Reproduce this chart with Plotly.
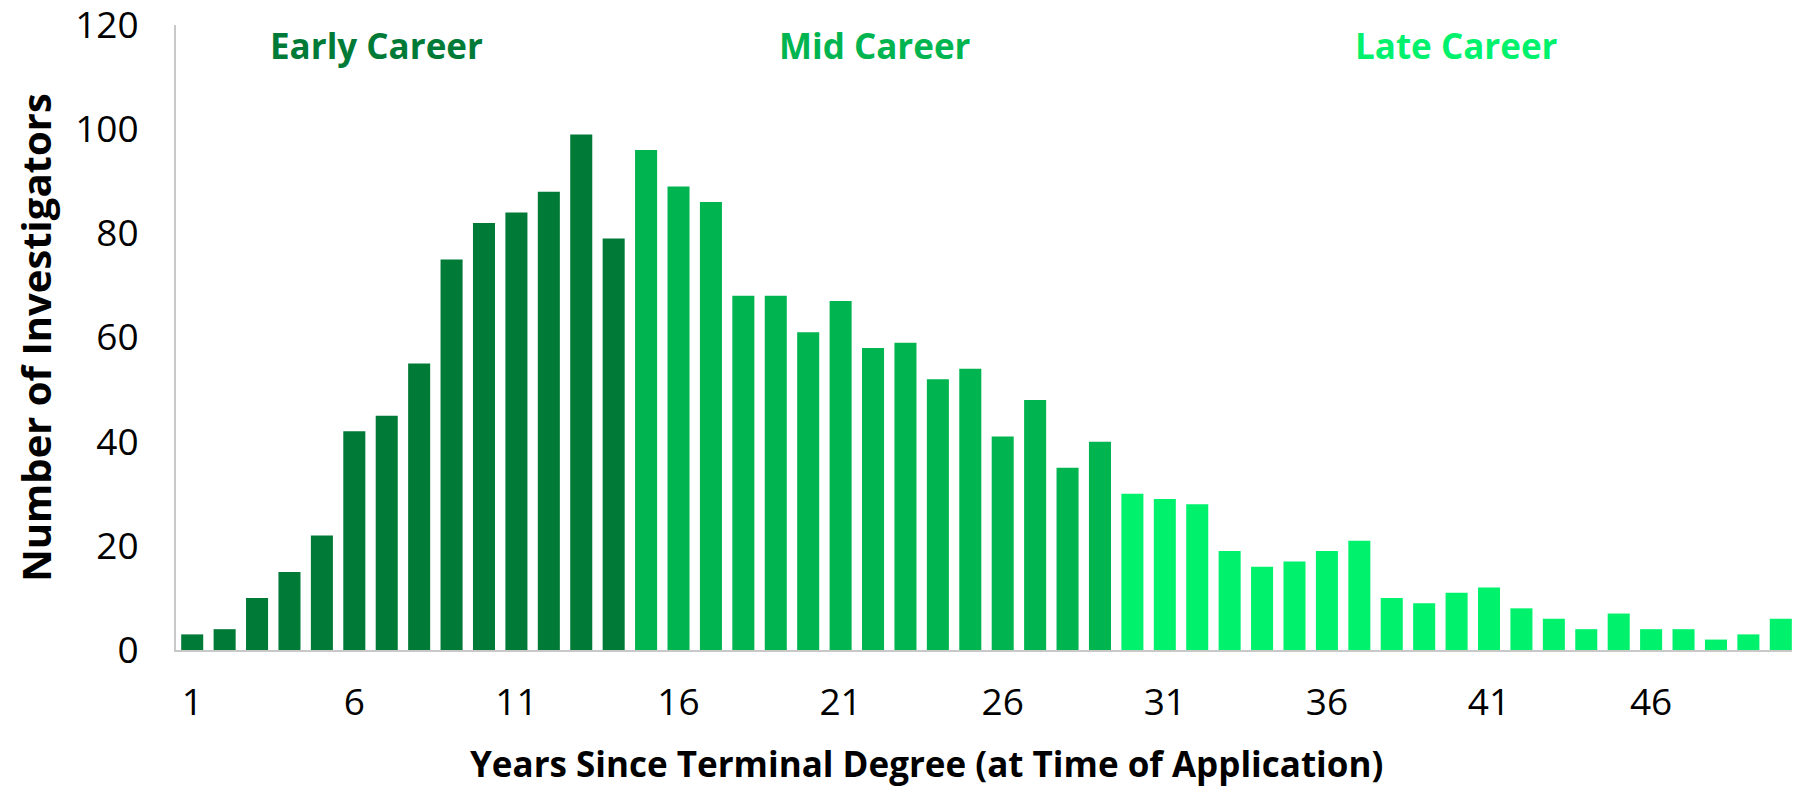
import plotly.graph_objects as go

# years since terminal degree, 1..50
years = list(range(1, 51))
counts = [3, 4, 10, 15, 22, 42, 45, 55, 75, 82,
          84, 88, 99, 79, 96, 89, 86, 68, 68, 61,
          67, 58, 59, 52, 54, 41, 48, 35, 40, 30,
          29, 28, 19, 16, 17, 19, 21, 10, 9, 11,
          12, 8, 6, 4, 7, 4, 4, 2, 3, 6]
stages = ["Early Career", "Mid Career", "Late Career"]
stage_start = [1, 15, 30]
stage_label_x = [6.67, 22.05, 40.0]
x_ticks = [1, 6, 11, 16, 21, 26, 31, 36, 41, 46]

COLORS = {
    "Early Career": "#007A37",
    "Mid Career":   "#00B550",
    "Late Career":  "#00F26D",
    "axis":         "#C8C8C8",
    "text":         "#000000",
}


def stage_of(year):
    s = stages[0]
    for name, start in zip(stages, stage_start):
        if year >= start:
            s = name
    return s


bar_colors = [COLORS[stage_of(y)] for y in years]

fig = go.Figure(go.Bar(
    x=years,
    y=counts,
    marker=dict(color=bar_colors, line=dict(width=0)),
    showlegend=False,
))

for name, lx in zip(stages, stage_label_x):
    fig.add_annotation(x=lx, y=116, text=f"<b>{name}</b>", showarrow=False,
                       font=dict(color=COLORS[name], size=35, family="Open Sans"))

# x title sits a bit left of the plot centre in the original
fig.add_annotation(xref="paper", yref="paper", x=0.4627, y=-0.181,
                   xanchor="center", yanchor="middle", showarrow=False,
                   text="<b>Years Since Terminal Degree (at Time of Application)</b>",
                   font=dict(size=35, color=COLORS["text"]))

# page body adds an 8px margin, so the figure is a bit smaller than the window
fig.update_layout(
    width=1792, height=783,
    paper_bgcolor="white",
    plot_bgcolor="white",
    bargap=0.32,
    font=dict(family="Open Sans", color=COLORS["text"]),
    margin=dict(l=168, r=3, t=17, b=141),
    xaxis=dict(
        range=[0.5, 50.5],
        tickvals=x_ticks,
        ticktext=[str(t) for t in x_ticks],
        tickfont=dict(size=37),
        ticklabelstandoff=19,
        showgrid=False,
        automargin=False,
        showline=True, linecolor=COLORS["axis"], linewidth=2,
    ),
    yaxis=dict(
        range=[0, 120],
        tickvals=[0, 20, 40, 60, 80, 100, 120],
        tickfont=dict(size=37),
        ticklabelstandoff=28,
        ticklabeloverflow="allow",
        showgrid=False,
        zeroline=False,
        automargin=False,
        showline=True, linecolor=COLORS["axis"], linewidth=2,
        title=dict(text="<b>Number of Investigators</b>", font=dict(size=40), standoff=35),
    ),
)

fig.write_html("out.html")
